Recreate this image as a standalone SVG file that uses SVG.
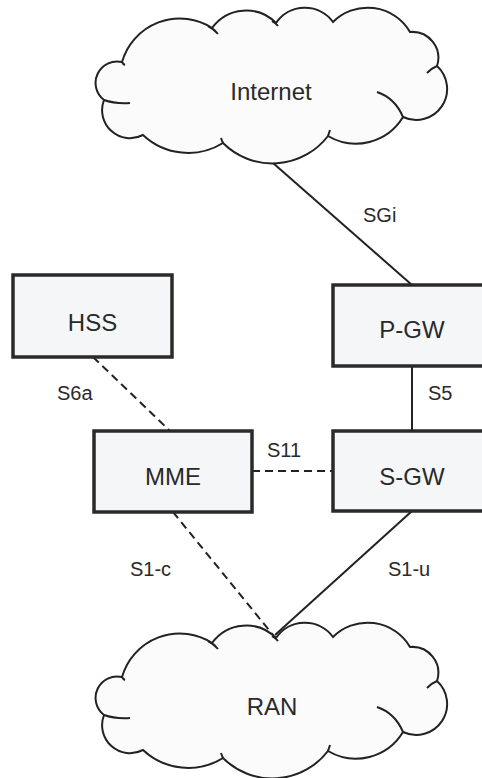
<svg xmlns="http://www.w3.org/2000/svg" xmlns:xlink="http://www.w3.org/1999/xlink" width="482" height="778" viewBox="0 0 482 778">
<style>
  .box { fill: #f4f6f8; stroke: #2a2a2a; stroke-width: 3.5; }
  .cloud { fill: #fbfbfb; stroke: #222; stroke-width: 2; }
  .hook { fill: none; stroke: #222; stroke-width: 2; }
  .lbl { font-family: "Liberation Sans", Arial, sans-serif; font-size: 24px; fill: #2a2a2a; text-anchor: middle; }
  .elbl { font-family: "Liberation Sans", Arial, sans-serif; font-size: 20px; fill: #2a2a2a; }
  .line { stroke: #222; stroke-width: 2; fill: none; }
  .dash { stroke-dasharray: 8 5; }
</style>
<defs>
  <path id="cloudShape" d="M122,62 A60,60 0 0 1 212,28 A42,42 0 0 1 276,23 A35,35 0 0 1 333,22 A49,49 0 0 1 410,32 A26,26 0 0 1 437,66 A31,31 0 0 1 403,117 A55,55 0 0 1 328,136 A70,70 0 0 1 223,143 A66,66 0 0 1 143,135 A28,28 0 0 1 104,100 A21.5,21.5 0 0 1 122,62 Z"/>
  <path id="cloudHooks" d="M208,26 Q214,29 218,34 M272,21 Q276,23 278,26 M437,66 Q432,68 427,73 M403,117 Q395,98 377,92 M328,136 Q329,133 330,130 M223,143 Q222,141 221,138 M104,100 Q115,104 130,103 M122,62 Q123,64 125,65"/>
</defs>
<rect x="0" y="0" width="482" height="778" fill="#ffffff"/>

<g id="connectors">
  <line class="line" x1="273" y1="163" x2="412" y2="285"/>
  <line class="line" x1="412" y1="366" x2="412" y2="431"/>
  <line class="line dash" x1="93" y1="357" x2="170" y2="431"/>
  <line class="line dash" x1="252" y1="471" x2="333" y2="471"/>
  <line class="line dash" x1="173" y1="512" x2="273" y2="635"/>
  <line class="line" x1="412" y1="511" x2="275" y2="635"/>
  <text class="elbl" x="363" y="222">SGi</text>
  <text class="elbl" x="57" y="400">S6a</text>
  <text class="elbl" x="428" y="400">S5</text>
  <text class="elbl" x="267" y="457">S11</text>
  <text class="elbl" x="130" y="576">S1-c</text>
  <text class="elbl" x="388" y="576">S1-u</text>
</g>

<g id="internet">
  <use xlink:href="#cloudShape" href="#cloudShape" class="cloud"/>
  <use xlink:href="#cloudHooks" href="#cloudHooks" class="hook"/>
  <text class="lbl" x="271" y="100">Internet</text>
</g>

<g id="hss">
  <rect class="box" x="13" y="275" width="159" height="82"/>
  <text class="lbl" x="92.5" y="331">HSS</text>
</g>

<g id="pgw">
  <rect class="box" x="333" y="285" width="158" height="81"/>
  <text class="lbl" x="412" y="338">P-GW</text>
</g>

<g id="mme">
  <rect class="box" x="94" y="431" width="158" height="81"/>
  <text class="lbl" x="173" y="485">MME</text>
</g>

<g id="sgw">
  <rect class="box" x="333" y="431" width="158" height="80"/>
  <text class="lbl" x="412" y="485">S-GW</text>
</g>

<g id="ran" transform="translate(0,615)">
  <use xlink:href="#cloudShape" href="#cloudShape" class="cloud"/>
  <use xlink:href="#cloudHooks" href="#cloudHooks" class="hook"/>
  <text class="lbl" x="272" y="100">RAN</text>
</g>
</svg>
